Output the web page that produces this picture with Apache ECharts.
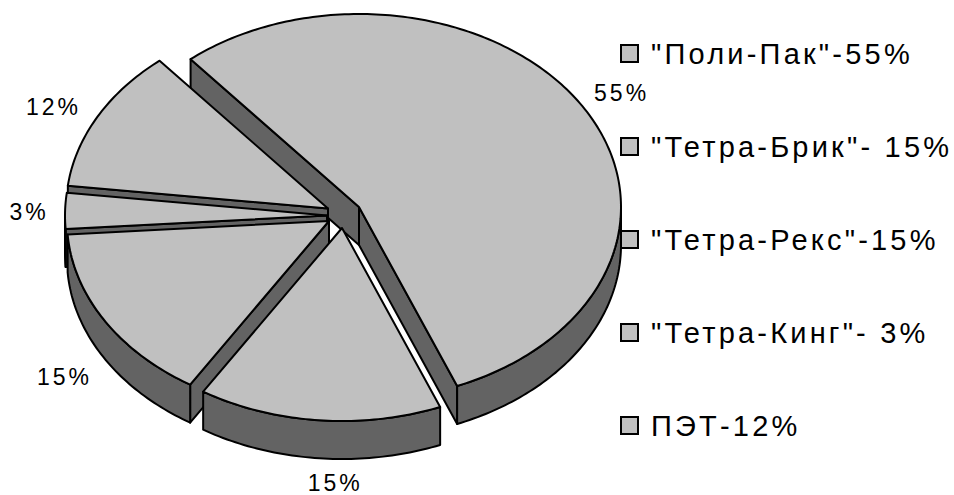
<!DOCTYPE html>
<html><head><meta charset="utf-8">
<style>
html,body{margin:0;padding:0;background:#fff}
#c{width:954px;height:495px}
text[style*="29px"]{letter-spacing:3.2px}
text[style*="23px"]{letter-spacing:3px}
</style>
<script src="https://cdn.jsdelivr.net/npm/echarts@6/dist/echarts.min.js"></script>
</head><body><div id="c"></div>
<script>
const legendNames = ['"Поли-Пак"-55%','"Тетра-Брик"- 15%','"Тетра-Рекс"-15%','"Тетра-Кинг"- 3%','ПЭТ-12%'];
const shares = [55,15,15,3,12];
// style / layout
const sliceCenters = [[359,207],[342,228],[329,221],[327,215.5],[328,208.5]];
const labelOffsets = [[38,-15],[16,63],[-40,57],[-36,1],[-44,-10]];
const drawOrder = [0,4,3,2,1];
const RX=262, RY=193, DEPTH=38, START=-40;
const TOP='#C0C0C0', WALL='#636363', INK='#000';

const total = shares.reduce((a,b)=>a+b,0);
let cum = 0;
const ranges = shares.map(v=>{const a=START+cum/total*360;cum+=v;return [a,START+cum/total*360];});

function pt(c,deg,dy){const r=deg*Math.PI/180;return [c[0]+RX*Math.sin(r),c[1]-RY*Math.cos(r)+(dy||0)];}
function arc(c,a,b,dy){const n=Math.max(1,Math.ceil((b-a)));const o=[];for(let i=0;i<=n;i++)o.push(pt(c,a+(b-a)*i/n,dy));return o;}
function poly(points,fill){return {type:'polygon',shape:{points},style:{fill,stroke:INK,lineWidth:2,lineJoin:'round'}};}
function wallVisible(c,p,m){
  const ex=p[0]-c[0],ey=p[1]-c[1],mx=m[0]-c[0],my=m[1]-c[1];
  return ex*(ex*my-ey*mx)<0;
}

function makeRender(i){
  return function(params,api){
    const value=api.value(0), c=sliceCenters[i], [a,b]=ranges[i];
    const ch=[];
    const base=[c[0],c[1]+DEPTH];
    const mid=pt(c,(a+b)/2);
    [a,b].forEach(t=>{
      const p=pt(c,t);
      if(wallVisible(c,p,mid)) ch.push(poly([c,p,[p[0],p[1]+DEPTH],base],WALL));
    });
    const lo=Math.max(a,90),hi=Math.min(b,270);
    if(hi>lo){ch.push(poly(arc(c,lo,hi,0).concat(arc(c,lo,hi,DEPTH).reverse()),WALL));}
    ch.push(poly([c].concat(arc(c,a,b,0)),TOP));
    const off=labelOffsets[i];
    ch.push({type:'text',z2:50,style:{text:value+'%',x:mid[0]+off[0],y:mid[1]+off[1],fill:'#000',
      font:'23px "Liberation Sans"',align:'center',verticalAlign:'middle'}});
    return {type:'group',children:ch};
  };
}

const chart=echarts.init(document.getElementById('c'),null,{renderer:'svg'});
chart.setOption({
  animation:false,
  backgroundColor:'#fff',
  legend:{
    orient:'vertical',left:620,top:39,padding:0,itemWidth:17,itemHeight:17,itemGap:64,z:20,
    data:legendNames,selectedMode:false,icon:'rect',
    itemStyle:{color:TOP,borderColor:INK,borderWidth:2},
    textStyle:{fontFamily:'Liberation Sans',fontSize:29,color:'#000',padding:[0,0,0,8]}
  },
  series:drawOrder.map(i=>({
    type:'custom',name:legendNames[i],coordinateSystem:'none',silent:true,
    itemStyle:{color:TOP},
    data:[[shares[i]]],
    renderItem:makeRender(i)
  }))
});
</script></body></html>
